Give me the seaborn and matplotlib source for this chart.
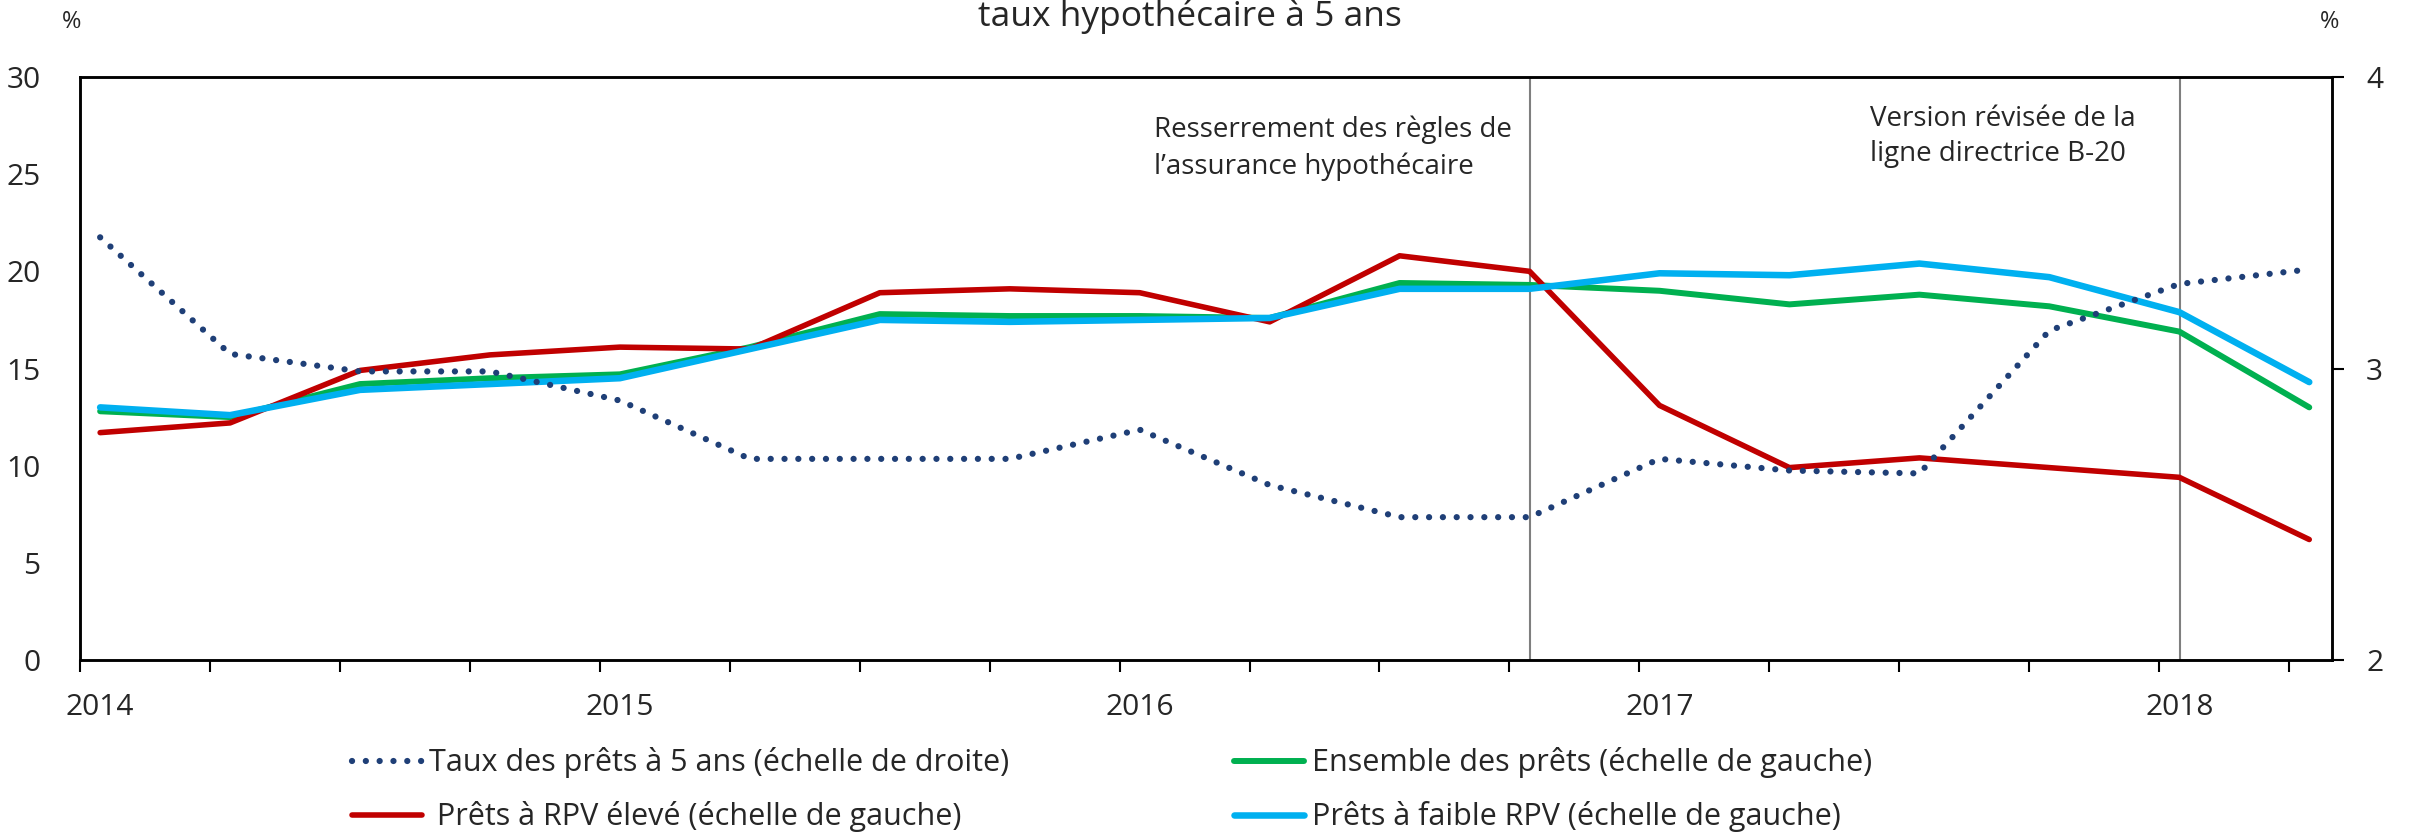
import numpy as np
import pandas as pd
import matplotlib
matplotlib.use("Agg")
import matplotlib.pyplot as plt
import seaborn as sns

# ---- data (quarterly, 2014Q1 .. 2018Q2) ----
quarters = list(range(18))
taux_5ans = [3.45, 3.05, 2.99, 2.99, 2.89, 2.69, 2.69, 2.69, 2.79, 2.60,
             2.49, 2.49, 2.69, 2.65, 2.64, 3.13, 3.29, 3.34]
ensemble = [12.8, 12.5, 14.2, 14.5, 14.7, 16.1, 17.8, 17.7, 17.7, 17.6,
            19.4, 19.3, 19.0, 18.3, 18.8, 18.2, 16.9, 13.0]
rpv_eleve = [11.7, 12.2, 14.9, 15.7, 16.1, 16.0, 18.9, 19.1, 18.9, 17.4,
             20.8, 20.0, 13.1, 9.9, 10.4, 9.9, 9.4, 6.2]
rpv_faible = [13.0, 12.6, 13.9, 14.2, 14.5, 16.0, 17.5, 17.4, 17.5, 17.6,
              19.1, 19.1, 19.9, 19.8, 20.4, 19.7, 17.9, 14.3]
year_labels = ["2014", "2015", "2016", "2017", "2018"]
left_ticks = [0, 5, 10, 15, 20, 25, 30]
right_ticks = [2, 3, 4]
event_pos = [11.16, 16.16]
event_text = ["Resserrement des règles de\nl\u2019assurance hypothécaire",
              "Version révisée de la\nligne directrice B-20"]
labels = ["Taux des prêts à 5 ans (échelle de droite)",
          " Prêts à RPV élevé (échelle de gauche)",
          "Ensemble des prêts (échelle de gauche)",
          "Prêts à faible RPV (échelle de gauche)"]

offset = 0.155
x = [q + offset for q in quarters]
df = pd.DataFrame({"x": x, "taux": taux_5ans, "ens": ensemble,
                   "haut": rpv_eleve, "bas": rpv_faible})

sns.set_style("white")
plt.rcParams["font.family"] = ["Open Sans", "DejaVu Sans"]
FS = 20
TFS = 21.5
LFS = 22

W, H = 2412, 832
fig = plt.figure(figsize=(W / 100, H / 100), dpi=100)
L, R, T, B = 80, 2332, 77, 660
ax = fig.add_axes([L / W, 1 - B / H, (R - L) / W, (B - T) / H])
ax2 = ax.twinx()

c_red, c_green, c_blue, c_navy = "#C00000", "#00B050", "#00B0F0", "#1F3F77"

sns.lineplot(data=df, x="x", y="ens", ax=ax, color=c_green, linewidth=4.3)
sns.lineplot(data=df, x="x", y="haut", ax=ax, color=c_red, linewidth=4.0)
sns.lineplot(data=df, x="x", y="bas", ax=ax, color=c_blue, linewidth=4.7)
sns.lineplot(data=df, x="x", y="taux", ax=ax2, color=c_navy, linewidth=4.5)
dot = ax2.lines[-1]
dot.set_linestyle((0, (0.01, 2.2)))
dot.set_dash_capstyle("round")

for ln in ax.lines:
    ln.set_solid_capstyle("round")

for p in event_pos:
    ax.axvline(p, color="#7F7F7F", linewidth=1.5, zorder=0)

ax.set_xlim(0, 17.33)
ax.set_ylim(0, 30)
ax2.set_ylim(2, 4)
ax.set_xlabel("")
ax.set_ylabel("")
ax2.set_ylabel("")

tick_font = {"family": "Open Sans", "size": TFS}
ax.set_xticks(quarters)
ax.set_xticklabels([])
ax.set_xticks([q + offset for q in [0, 4, 8, 12, 16]], minor=True)
ax.set_xticklabels(year_labels, minor=True, fontdict=tick_font)
ax.tick_params(axis="x", which="major", direction="out", length=8.5, width=1.5,
               bottom=True, color="black")
ax.tick_params(axis="x", which="minor", length=0, pad=24)
ax.set_yticks(left_ticks)
ax.set_yticklabels([str(v) for v in left_ticks], fontdict=tick_font)
ax.tick_params(axis="y", left=False, pad=25)
ax2.set_yticks(right_ticks)
ax2.set_yticklabels([str(v) for v in right_ticks], fontdict=tick_font)
ax2.tick_params(axis="y", right=True, direction="out", length=8.5, width=1.5,
                pad=16, color="black")

for a in (ax, ax2):
    for s in a.spines.values():
        s.set_visible(True)
        s.set_color("black")
        s.set_linewidth(1.8)

fig.text(72 / W, 1 - 22 / H, "%", fontsize=FS - 3, ha="center", va="center")
fig.text(2330 / W, 1 - 22 / H, "%", fontsize=FS - 3, ha="center", va="center")
fig.text(1190 / W, 1 - 26 / H, "taux hypothécaire à 5 ans", fontsize=25.5,
         ha="center", va="baseline")

fig.text(1154 / W, 1 - 116 / H, event_text[0], fontsize=FS, ha="left",
         va="top", linespacing=1.35)
fig.text(1870 / W, 1 - 105 / H, event_text[1], fontsize=FS, ha="left",
         va="top", linespacing=1.35)

handles = [ax2.lines[-1], ax.lines[1], ax.lines[0], ax.lines[2]]
leg = fig.legend(handles, labels, ncol=2, loc="upper left",
                 bbox_to_anchor=(324 / W, 1 - 720 / H), frameon=False,
                 prop={"size": LFS}, handlelength=2.3, handletextpad=0.25,
                 columnspacing=7.35, labelspacing=0.75)

fig.savefig("out.png", dpi=100)
